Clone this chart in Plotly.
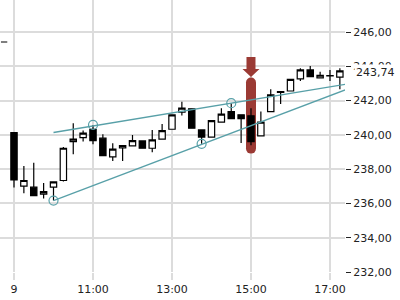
import plotly.graph_objects as go

# ---- data (15-minute candles) ----
times = ["08:45", "09:00", "09:15", "09:30", "09:45", "10:00", "10:15", "10:30", "10:45",
         "11:00", "11:15", "11:30", "11:45", "12:00", "12:15", "12:30", "12:45",
         "13:00", "13:15", "13:30", "13:45", "14:00", "14:15", "14:30", "14:45",
         "15:00", "15:15", "15:30", "15:45", "16:00", "16:15", "16:30", "16:45",
         "17:00", "17:15"]
opens = [245.42, 240.13, 237.01, 236.95, 236.54, 236.95, 237.34, 239.61, 239.84,
         240.33, 239.81, 238.72, 239.24, 239.36, 239.65, 239.22, 239.75,
         240.33, 241.32, 241.52, 240.29, 239.87, 240.74, 241.36, 241.17,
         241.11, 239.94, 241.36, 242.48, 242.56, 243.27, 243.79, 243.33,
         243.44, 243.37]
highs = [245.42, 240.15, 238.19, 238.38, 237.20, 237.28, 239.30, 240.68, 240.25,
         240.58, 240.04, 239.51, 239.38, 240.00, 239.68, 240.29, 240.64,
         241.20, 241.94, 241.56, 240.29, 240.85, 241.56, 241.85, 241.17,
         241.56, 241.36, 242.66, 242.55, 243.24, 243.89, 244.02, 243.68,
         243.79, 243.89]
lows = [245.42, 236.93, 236.60, 236.46, 236.29, 236.17, 237.28, 238.87, 239.61,
        239.46, 238.79, 238.47, 238.47, 239.36, 239.22, 238.99, 239.71,
        240.30, 241.13, 240.39, 239.48, 239.85, 240.74, 240.95, 239.52,
        239.40, 239.94, 241.36, 241.80, 242.56, 243.15, 243.40, 243.33,
        243.15, 242.66]
closes = [245.42, 237.38, 237.34, 236.46, 236.69, 237.26, 239.22, 239.75, 240.10,
          239.67, 238.79, 239.17, 239.38, 239.67, 239.22, 239.71, 240.25,
          241.17, 241.56, 240.39, 239.87, 240.83, 241.21, 240.95, 240.95,
          239.61, 240.74, 242.33, 242.52, 243.24, 243.79, 243.40, 243.48,
          243.46, 243.74]

# trend lines (start/end) and pivot circles
upper_t = ["10:00", "17:23"]
upper_v = [240.14, 242.95]
lower_t = ["10:00", "17:23"]
lower_v = [236.17, 242.62]
pivot_t = ["10:00", "11:00", "13:45", "14:30"]
pivot_v = [236.17, 240.58, 239.48, 241.85]

# highlight marker
highlight_t = "15:00"
highlight_top = 243.05
highlight_bottom = 239.20
arrow_tip = 243.38

last_price = 243.74
tick_vals_h = ["09:00", "11:00", "13:00", "15:00", "17:00"]
tick_text = ["9", "11:00", "13:00", "15:00", "17:00"]
y_ticks = [232, 234, 236, 238, 240, 242, 244, 246]


def hrs(s):
    h, m = s.split(":")
    return int(h) + int(m) / 60.0


x = [hrs(t) for t in times]
RED = "#9b3a34"
TEAL = "#58a0a8"
FONT = "DejaVu Sans"
GRID = "#dcdcdc"

fig = go.Figure()
fig.add_trace(go.Candlestick(
    x=x, open=opens, high=highs, low=lows, close=closes,
    increasing=dict(fillcolor="white", line=dict(color="black", width=1.2)),
    decreasing=dict(fillcolor="black", line=dict(color="black", width=1.2)),
    whiskerwidth=0, showlegend=False, hoverinfo="skip"))

fig.add_trace(go.Scatter(x=[hrs(t) for t in upper_t], y=upper_v, mode="lines",
                         line=dict(color=TEAL, width=1.3), showlegend=False, hoverinfo="skip"))
fig.add_trace(go.Scatter(x=[hrs(t) for t in lower_t], y=lower_v, mode="lines",
                         line=dict(color=TEAL, width=1.3), showlegend=False, hoverinfo="skip"))
fig.add_trace(go.Scatter(x=[hrs(t) for t in pivot_t], y=pivot_v, mode="markers",
                         marker=dict(symbol="circle-open", size=9, color=TEAL, line=dict(width=1.2)),
                         showlegend=False, hoverinfo="skip"))

hx = hrs(highlight_t)
shapes = [
    dict(type="rect", xref="x", yref="y", xsizemode="pixel", xanchor=hx, x0=-5, x1=5,
         y0=highlight_bottom, y1=highlight_top, fillcolor=RED, line=dict(width=0), layer="between"),
    dict(type="circle", xref="x", yref="y", xsizemode="pixel", ysizemode="pixel",
         xanchor=hx, yanchor=highlight_top, x0=-5, x1=5, y0=-5, y1=5,
         fillcolor=RED, line=dict(width=0), layer="between"),
    dict(type="circle", xref="x", yref="y", xsizemode="pixel", ysizemode="pixel",
         xanchor=hx, yanchor=highlight_bottom, x0=-5, x1=5, y0=-5, y1=5,
         fillcolor=RED, line=dict(width=0), layer="between"),
    dict(type="path", xref="x", yref="y", xsizemode="pixel", ysizemode="pixel",
         xanchor=hx, yanchor=arrow_tip,
         path="M -4.5,20 L 4.5,20 L 4.5,8 L 8.5,8 L 0,0 L -8.5,8 L -4.5,8 Z",
         fillcolor=RED, line=dict(width=0)),
]

fig.update_layout(
    width=400, height=300,
    margin=dict(l=0, r=55, t=0, b=28),
    paper_bgcolor="white", plot_bgcolor="white",
    separators=",.",
    boxgap=0.36, boxgroupgap=0,
    font=dict(family=FONT, size=11, color="#222"),
    shapes=shapes,
    xaxis=dict(range=[8.6456, 17.38], tickvals=[hrs(t) for t in tick_vals_h], ticktext=tick_text,
               showgrid=True, gridcolor=GRID, gridwidth=1.5, zeroline=False,
               showline=False, ticks="outside", ticklen=7, tickcolor=GRID, tickwidth=1.5,
               rangeslider=dict(visible=False),
               tickfont=dict(family=FONT, size=11, color="#222")),
    yaxis=dict(side="right", range=[232, 247.87], tickvals=y_ticks, tickformat=".2f",
               showgrid=True, gridcolor=GRID, gridwidth=1.5, zeroline=False,
               showline=False, ticks="outside", ticklen=5, tickcolor="#222", tickwidth=1.2,
               tickfont=dict(family=FONT, size=11, color="#222")),
    annotations=[dict(xref="paper", yref="y", x=1, y=last_price, xanchor="left",
                      xshift=9, yshift=-2, text="243,74", showarrow=False, bgcolor="white",
                      font=dict(family=FONT, size=11, color="#222"), borderpad=1)],
)

fig.write_html("out.html")
